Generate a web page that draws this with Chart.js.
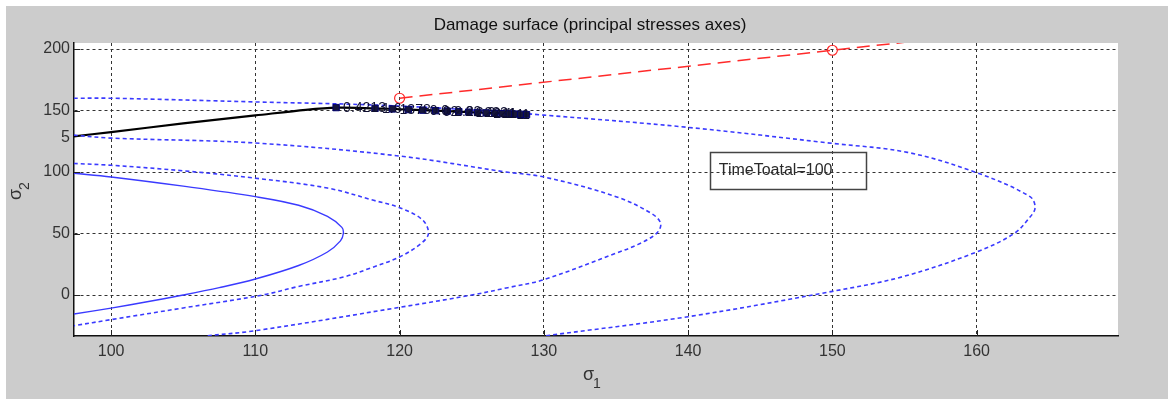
<!DOCTYPE html>
<html>
<head>
<meta charset="utf-8">
<title>Damage surface</title>
<script src="https://cdn.jsdelivr.net/npm/chart.js@4.4.1/dist/chart.umd.min.js"></script>
<style>
  html, body { margin: 0; padding: 0; background: #fff; }
  canvas { display: block; }
</style>
</head>
<body>
<canvas id="damageChart" width="1175" height="405"></canvas>
<script>
// axis ticks
const xTicks = [100, 110, 120, 130, 140, 150, 160];
const yTicks = [0, 50, 100, 128, 150, 200];
const yTickLabels = ["0", "50", "100", "5", "150", "200"];

// damage iso-curves in the (sigma1, sigma2) plane
const curve1X = [97.4, 100, 105, 110, 113, 115, 116, 116.1, 115.9, 115, 113, 110, 107.5, 105, 102.5, 100, 97.4];
const curve1Y = [99, 96, 88.5, 80, 73, 64, 55, 50, 44, 35, 24, 13, 6, 0, -5.5, -10.6, -15.5];

const curve2X = [97.4, 100, 105, 110, 115, 118.2, 120, 121.6, 122, 121.5, 120, 118, 116.1, 113, 110.5, 105, 100, 97.4];
const curve2Y = [107, 105.5, 101, 95, 87, 77, 71, 61, 50, 42, 31, 22, 14.6, 7, 0, -10.5, -20, -25];

const curve3X = [97.4, 100, 110, 120, 127.4, 130, 135, 137.5, 138.1, 137.8, 136.5, 135, 130, 127.5, 125, 120, 110, 106.5];
const curve3Y = [130, 127.6, 123.6, 113, 100, 96, 80, 66, 58, 50, 41, 34, 12.5, 6, 0, -10, -29, -33.3];

const curve4X = [97.4, 100, 110, 118.2, 125, 130, 140, 150, 155.2, 160, 163.7, 164.05, 163.6, 162.6, 160, 154.9, 150, 140, 130];
const curve4Y = [160, 160, 157, 154.5, 150.5, 146.3, 136.3, 123.3, 116, 99.5, 80, 70.7, 62, 50, 35, 15, 3, -17.6, -33.3];

// loading path, then the labelled steps along it
const pathX = [97.4, 100, 105, 110, 113.5];
const pathY = [129, 132.5, 139.5, 146, 150.6];
const stepX = [115.6, 118.3, 119.5, 120.6, 121.6, 122.5, 123.3, 124.1, 124.8, 125.4, 126.0, 126.6, 127.1, 127.6, 128.0, 128.4, 128.8];
const stepY = [152.4, 151.8, 151.3, 150.8, 150.3, 149.9, 149.5, 149.1, 148.7, 148.4, 148.1, 147.8, 147.5, 147.3, 147.1, 146.9, 146.7];
const stepLabels = ["0.4213", "1.6", "13", "78", "0.0", "02", "2.2", "22", "2.2", "222", "2.1", "11", "1", "1", "1", "", ""];

// failure line
const limitX = [120, 150, 160];
const limitY = [160, 199, 212];

const FONT = "'Liberation Sans', Arial, sans-serif";
const BLUE = "#3a3aff";

function pts(xs, ys) {
    return xs.map(function (x, i) { return { x: x, y: ys[i] }; });
}

const backdrop = {
    id: "backdrop",
    beforeDraw: function (chart) {
        const ctx = chart.ctx;
        const a = chart.chartArea;
        ctx.save();
        ctx.fillStyle = "#ffffff";
        ctx.fillRect(0, 0, chart.width, chart.height);
        ctx.fillStyle = "#cccccc";
        ctx.fillRect(6, 6, 1162, 393);
        ctx.fillStyle = "#ffffff";
        ctx.fillRect(a.left, a.top, a.right - a.left, a.bottom - a.top);
        ctx.restore();
    },
};

const stepText = {
    id: "stepText",
    afterDatasetsDraw: function (chart) {
        const ctx = chart.ctx;
        const meta = chart.getDatasetMeta(4);
        ctx.save();
        ctx.font = "14px " + FONT;
        ctx.fillStyle = "#0e0e30";
        ctx.textAlign = "left";
        ctx.textBaseline = "middle";
        stepLabels.forEach(function (txt, i) {
            const p = meta.data[pathX.length + i];
            if (txt) ctx.fillText(txt, p.x + 7, p.y + 1);
        });
        ctx.restore();
    },
};

const decorations = {
    id: "decorations",
    afterDraw: function (chart) {
        const ctx = chart.ctx;
        const a = chart.chartArea;
        const xs = chart.scales.x;
        const ys = chart.scales.y;
        ctx.save();

        // inward tick marks
        ctx.strokeStyle = "#222";
        ctx.lineWidth = 1;
        ctx.beginPath();
        xTicks.forEach(function (v) {
            const px = Math.round(xs.getPixelForValue(v)) + 0.5;
            ctx.moveTo(px, a.bottom);
            ctx.lineTo(px, a.bottom - 6);
        });
        yTicks.forEach(function (v, i) {
            if (yTickLabels[i] === "5") return;
            const py = Math.round(ys.getPixelForValue(v)) + 0.5;
            ctx.moveTo(a.left, py);
            ctx.lineTo(a.left + 6, py);
        });
        ctx.stroke();

        // title
        ctx.fillStyle = "#111";
        ctx.font = "17px " + FONT;
        ctx.textAlign = "center";
        ctx.textBaseline = "middle";
        ctx.fillText("Damage surface (principal stresses axes)", 590, 25);

        // sigma_1 under the x axis
        ctx.fillStyle = "#333";
        ctx.textAlign = "left";
        ctx.textBaseline = "alphabetic";
        ctx.font = "18px " + FONT;
        ctx.fillText("σ", 583, 380);
        ctx.font = "14px " + FONT;
        ctx.fillText("1", 593, 388);

        // sigma_2 beside the y axis
        ctx.save();
        ctx.translate(21, 200);
        ctx.rotate(-Math.PI / 2);
        ctx.font = "18px " + FONT;
        ctx.fillText("σ", 0, 0);
        ctx.font = "14px " + FONT;
        ctx.fillText("2", 10, 8);
        ctx.restore();

        // text box
        const bx = xs.getPixelForValue(141.5);
        const by = ys.getPixelForValue(116.3);
        ctx.strokeStyle = "#444";
        ctx.lineWidth = 1.5;
        ctx.strokeRect(Math.round(bx) + 0.5, Math.round(by) + 0.5, 156, 37);
        ctx.fillStyle = "#2a2a2a";
        ctx.font = "16px " + FONT;
        ctx.textBaseline = "middle";
        ctx.fillText("TimeToatal=100", bx + 9, by + 19);

        ctx.restore();
    },
};

function curveSet(xs, ys, dashed) {
    return {
        data: pts(xs, ys),
        showLine: true,
        borderColor: BLUE,
        borderWidth: dashed ? 1.6 : 1.4,
        borderDash: dashed ? [4, 3] : [],
        pointRadius: 0,
        tension: 0.35,
        clip: 0,
    };
}

const pathPts = pts(pathX, pathY).concat(pts(stepX, stepY));
const pathRadius = pathX.map(function () { return 0; }).concat(stepX.map(function () { return 4.5; }));

const chart = new Chart(document.getElementById("damageChart"), {
    type: "scatter",
    data: {
        datasets: [
            {
                data: pts(limitX, limitY),
                showLine: true,
                borderColor: "#ff2a2a",
                borderWidth: 1.5,
                borderDash: [13, 7],
                pointStyle: "circle",
                pointRadius: [5, 5, 0],
                pointBorderColor: "#ff2a2a",
                pointBackgroundColor: "rgba(0,0,0,0)",
                pointBorderWidth: 1.2,
                clip: 0,
            },
            curveSet(curve1X, curve1Y, false),
            curveSet(curve2X, curve2Y, true),
            curveSet(curve3X, curve3Y, true),
            {
                data: pathPts,
                showLine: true,
                borderColor: "#000",
                borderWidth: 2.2,
                pointStyle: "rect",
                pointRadius: pathRadius,
                pointBackgroundColor: "#16163a",
                pointBorderColor: "#000070",
                pointBorderWidth: 1,
                tension: 0.3,
                clip: 0,
            },
            curveSet(curve4X, curve4Y, true),
        ],
    },
    options: {
        responsive: false,
        animation: false,
        events: [],
        layout: {
            padding: { top: 43, right: 57, left: 0, bottom: 0 },
        },
        plugins: {
            legend: { display: false },
            tooltip: { enabled: false },
        },
        scales: {
            x: {
                type: "linear",
                min: 97.43,
                max: 169.8,
                afterBuildTicks: function (scale) {
                    scale.ticks = xTicks.map(function (v) { return { value: v }; });
                },
                afterFit: function (scale) {
                    scale.height = 69;
                },
                grid: {
                    color: "#333",
                    lineWidth: 1,
                    drawTicks: false,
                },
                border: {
                    display: true,
                    color: "#111",
                    width: 1.5,
                    dash: [3, 3],
                },
                ticks: {
                    padding: 6,
                    color: "#333",
                    font: { family: FONT, size: 16 },
                },
            },
            y: {
                type: "linear",
                min: -33.3,
                max: 204.9,
                afterBuildTicks: function (scale) {
                    scale.ticks = yTicks.map(function (v) { return { value: v }; });
                },
                afterFit: function (scale) {
                    scale.width = 74;
                },
                grid: {
                    color: function (ctx) {
                        return ctx.tick && ctx.tick.value === 128 ? "rgba(0,0,0,0)" : "#333";
                    },
                    lineWidth: 1,
                    drawTicks: false,
                },
                border: {
                    display: true,
                    color: "#111",
                    width: 1.5,
                    dash: [3, 3],
                },
                ticks: {
                    padding: 4,
                    color: "#333",
                    font: { family: FONT, size: 16 },
                    callback: function (value) {
                        const i = yTicks.indexOf(value);
                        return i >= 0 ? yTickLabels[i] : "";
                    },
                },
            },
        },
    },
    plugins: [backdrop, stepText, decorations],
});
</script>
</body>
</html>
